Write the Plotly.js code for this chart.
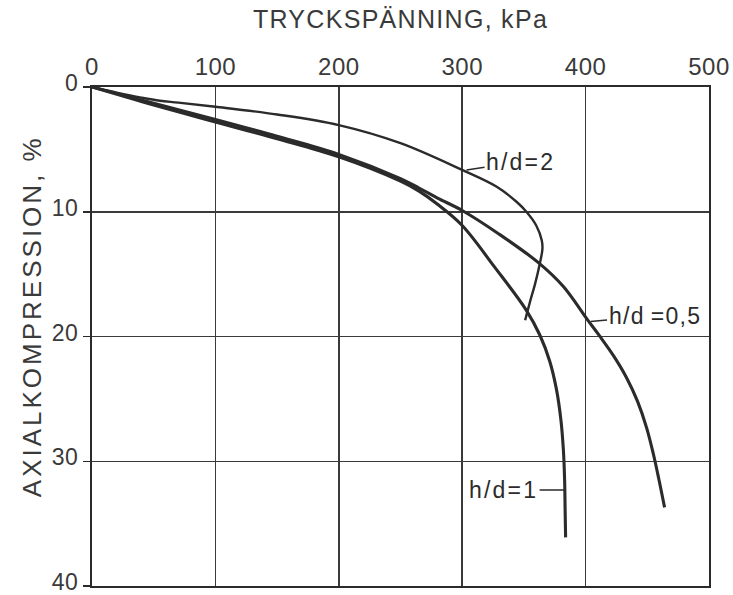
<!DOCTYPE html>
<html>
<head>
<meta charset="utf-8">
<script src="https://cdn.plot.ly/plotly-3.0.1.min.js"></script>
<style>
  html, body { margin: 0; padding: 0; background: #ffffff; }
  #chart { width: 733px; height: 595px; }
  .xtick text, .ytick text { letter-spacing: 0.5px; }
  .g-xtitle text { letter-spacing: 1.3px; }
</style>
</head>
<body>
<div id="chart"></div>
<script>
// Stress (kPa) vs. axial compression (%) for three specimen slenderness ratios
const stress_hd2  = [0, 20, 40, 55, 70, 100, 150, 200, 250, 300, 328, 344, 352, 360, 364.5, 365, 363, 359, 355, 351];
const strain_hd2  = [0, 0.45, 0.85, 1.1, 1.25, 1.58, 2.2, 3.05, 4.5, 6.65, 8.0, 9.2, 10.0, 11.1, 12.3, 13.0, 14.1, 15.8, 17.2, 18.7];

const stress_hd05 = [0, 50, 100, 150, 200, 250, 265, 280, 300, 330, 362, 382, 401.6, 411.3, 422.7, 433.2, 442.1, 449.4, 455.1, 459.5, 464];
const strain_hd05 = [0, 1.3, 2.6, 3.95, 5.4, 7.35, 8.1, 8.9, 9.9, 11.8, 14.1, 16.0, 18.67, 19.95, 21.55, 23.3, 25.2, 27.3, 29.5, 31.5, 33.7];

const stress_hd1  = [0, 50, 100, 150, 200, 250, 265, 280, 300, 326, 352, 363, 371, 376.5, 380, 382, 383, 383.4, 383.8];
const strain_hd1  = [0, 1.45, 2.8, 4.15, 5.6, 7.55, 8.35, 9.4, 11.1, 14.4, 17.9, 19.9, 22.0, 24.3, 26.7, 29.1, 31.5, 33.9, 36.1];

const xTicks = [0, 100, 200, 300, 400, 500];
const yTicks = [0, 10, 20, 30, 40];

const curveLabels = ["h/d=2", "h/d\u2009=0,5", "h/d=1"];
const xTitle = "TRYCKSPÄNNING, kPa";
const yTitle = "AXIALKOMPRESSION, %";

const ink = "#2b2b2b";
const textInk = "#3a3a3a";
const font = "Liberation Sans, Arial, sans-serif";

const curve = (x, y, w, name) => ({
  x: x, y: y, name: name, type: "scatter", mode: "lines",
  line: { color: ink, width: w, shape: "spline", smoothing: 1 },
  hoverinfo: "x+y", showlegend: false
});

const data = [
  curve(stress_hd2, strain_hd2, 2.4, curveLabels[0]),
  curve(stress_hd05, strain_hd05, 3.1, curveLabels[1]),
  curve(stress_hd1, strain_hd1, 3.1, curveLabels[2])
];

const spaced = (t, s) => '<span style="letter-spacing:' + s + 'px">' + t + '</span>';

const label = (x, y, ax, ay, text, s) => ({
  x: x, y: y, xref: "x", yref: "y", text: spaced(text, s),
  showarrow: true, arrowhead: 0, arrowwidth: 1.6, arrowcolor: ink,
  ax: ax, ay: ay, borderpad: 1,
  font: { family: font, size: 23, color: ink }
});

const layout = {
  width: 733, height: 595,
  margin: { l: 92, r: 24, t: 87, b: 9 },
  paper_bgcolor: "#ffffff", plot_bgcolor: "#ffffff",
  font: { family: font, color: textInk },
  xaxis: {
    side: "top", range: [0, 500], tickvals: xTicks, ticktext: xTicks.map(String),
    showgrid: true, gridcolor: "#3a3a3a", gridwidth: 1.5,
    showline: true, linecolor: ink, linewidth: 2, mirror: true,
    ticks: "", zeroline: false, ticklabeloverflow: "allow",
    tickfont: { family: font, size: 24, color: textInk },
    title: { text: xTitle, font: { family: font, size: 25, color: textInk }, standoff: 18 }
  },
  yaxis: {
    range: [40, 0], tickvals: yTicks, ticktext: yTicks.map(String),
    showgrid: true, gridcolor: "#3a3a3a", gridwidth: 1.5,
    showline: true, linecolor: ink, linewidth: 2, mirror: true,
    ticks: "outside", ticklen: 7, tickwidth: 1.5, tickcolor: ink, zeroline: false,
    ticklabeloverflow: "allow", ticklabelshift: 4,
    tickfont: { family: font, size: 23, color: textInk }
  },
  annotations: [
    {
      // vertical axis title
      text: spaced(yTitle, 3), textangle: -90,
      xref: "paper", yref: "paper", x: -0.097, y: 0.541,
      xanchor: "center", yanchor: "middle", showarrow: false,
      font: { family: font, size: 26, color: textInk }
    },
    label(303.5, 6.65, 54, -8, curveLabels[0], 2.2),
    label(404, 18.8, 64, -6, curveLabels[1], 1.3),
    label(383, 32.3, -61, 0, curveLabels[2], 2.2)
  ]
};

Plotly.newPlot("chart", data, layout, { staticPlot: true, displayModeBar: false });
</script>
</body>
</html>
